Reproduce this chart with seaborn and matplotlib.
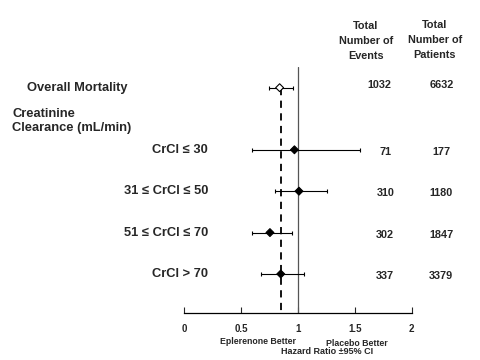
import seaborn as sns
import matplotlib.pyplot as plt
import pandas as pd

labels = ['Overall Mortality', 'CrCl \u2264 30', '31 \u2264 CrCl \u2264 50', '51 \u2264 CrCl \u2264 70', 'CrCl > 70']
row_pos = [0, 1.5, 2.5, 3.5, 4.5]
hr = [0.84, 0.97, 1.01, 0.755, 0.85]
ci_low = [0.75, 0.60, 0.80, 0.60, 0.68]
ci_high = [0.96, 1.55, 1.26, 0.95, 1.05]
events = [1032, 71, 310, 302, 337]
patients = [6632, 177, 1180, 1847, 3379]
overall_hr = 0.855
x_ticks = [0, 0.5, 1, 1.5, 2]

df = pd.DataFrame({'label': labels, 'pos': row_pos, 'hr': hr,
                   'lo': ci_low, 'hi': ci_high, 'events': events, 'patients': patients})
df['kind'] = ['overall'] + ['sub'] * (len(df) - 1)

sns.set_style('white')
plt.rcParams['font.family'] = ['Liberation Sans', 'DejaVu Sans']
plt.rcParams['font.weight'] = 'bold'

fig = plt.figure(figsize=(4.8, 3.6), dpi=100)
ax = fig.add_axes([0.3833, 0.1297, 0.4744, 0.6842])

# reference lines
ax.axvline(1, color='#555555', lw=0.9, zorder=1)
ax.plot([overall_hr, overall_hr], [df['pos'].iloc[0], 5.45], color='black', lw=1.3,
        ls=(0, (4, 3)), zorder=1)

# confidence intervals
ax.errorbar(df['hr'], df['pos'], xerr=[df['hr'] - df['lo'], df['hi'] - df['hr']],
            fmt='none', ecolor='black', elinewidth=0.8, capsize=1.5, capthick=0.8, zorder=2)
sns.scatterplot(data=df, x='hr', y='pos', hue='kind', style='kind',
                palette={'overall': 'white', 'sub': 'black'},
                markers={'overall': 'D', 'sub': 'D'}, s=16,
                edgecolor='black', linewidth=0.8, legend=False, ax=ax, zorder=3)

ax.set_xlim(0, 2)
ax.set_ylim(5.45, -0.5)
ax.set_xticks(x_ticks)
ax.set_xticklabels([f'{t:g}' for t in x_ticks], fontsize=7)
ax.tick_params(axis='x', direction='in', length=4, width=0.8, pad=8, bottom=True)
ax.set_yticks([])
ax.set_xlabel('')
ax.set_ylabel('')
for s in ['top', 'left', 'right']:
    ax.spines[s].set_visible(False)
ax.spines['bottom'].set_linewidth(0.9)
ax.spines['bottom'].set_color('black')

# row labels (x in axes fraction)
trans = ax.get_yaxis_transform()
for i, r in df.iterrows():
    if r['kind'] == 'overall':
        ax.text(-0.69, r['pos'], r['label'], transform=trans, ha='left', va='center',
                fontsize=9.3, clip_on=False)
        ev_x = 0.856
    else:
        ax.text(0.105, r['pos'], r['label'], transform=trans, ha='right', va='center',
                fontsize=9.3, clip_on=False)
        ev_x = 0.884
    dy = -0.06 if r['kind'] == 'overall' else 0.05
    ax.text(ev_x, r['pos'] + dy, f"{r['events']}", transform=trans, ha='center',
            va='center', fontsize=7.8, clip_on=False)
    ax.text(1.13, r['pos'] + dy, f"{r['patients']}", transform=trans, ha='center',
            va='center', fontsize=7.8, clip_on=False)

ax.text(-0.755, 0.8, 'Creatinine\nClearance (mL/min)', transform=trans, ha='left',
        va='center', fontsize=9.3, linespacing=1.2, clip_on=False)

fig.text(366 / 480, 1 - 41 / 360, 'Total\nNumber of\nEvents', ha='center', va='center',
         fontsize=7.8, linespacing=1.65)
fig.text(435 / 480, 1 - 40 / 360, 'Total\nNumber of\nPatients', ha='center', va='center',
         fontsize=7.8, linespacing=1.6)

fig.text(258 / 480, 1 - 342 / 360, 'Eplerenone Better', ha='center', va='center', fontsize=6.3)
fig.text(357 / 480, 1 - 344 / 360, 'Placebo Better', ha='center', va='center', fontsize=6.3)
fig.text(327 / 480, 1 - 352 / 360, 'Hazard Ratio \u00b195% CI', ha='center', va='center', fontsize=6.5)

fig.savefig('out.png', dpi=100)
